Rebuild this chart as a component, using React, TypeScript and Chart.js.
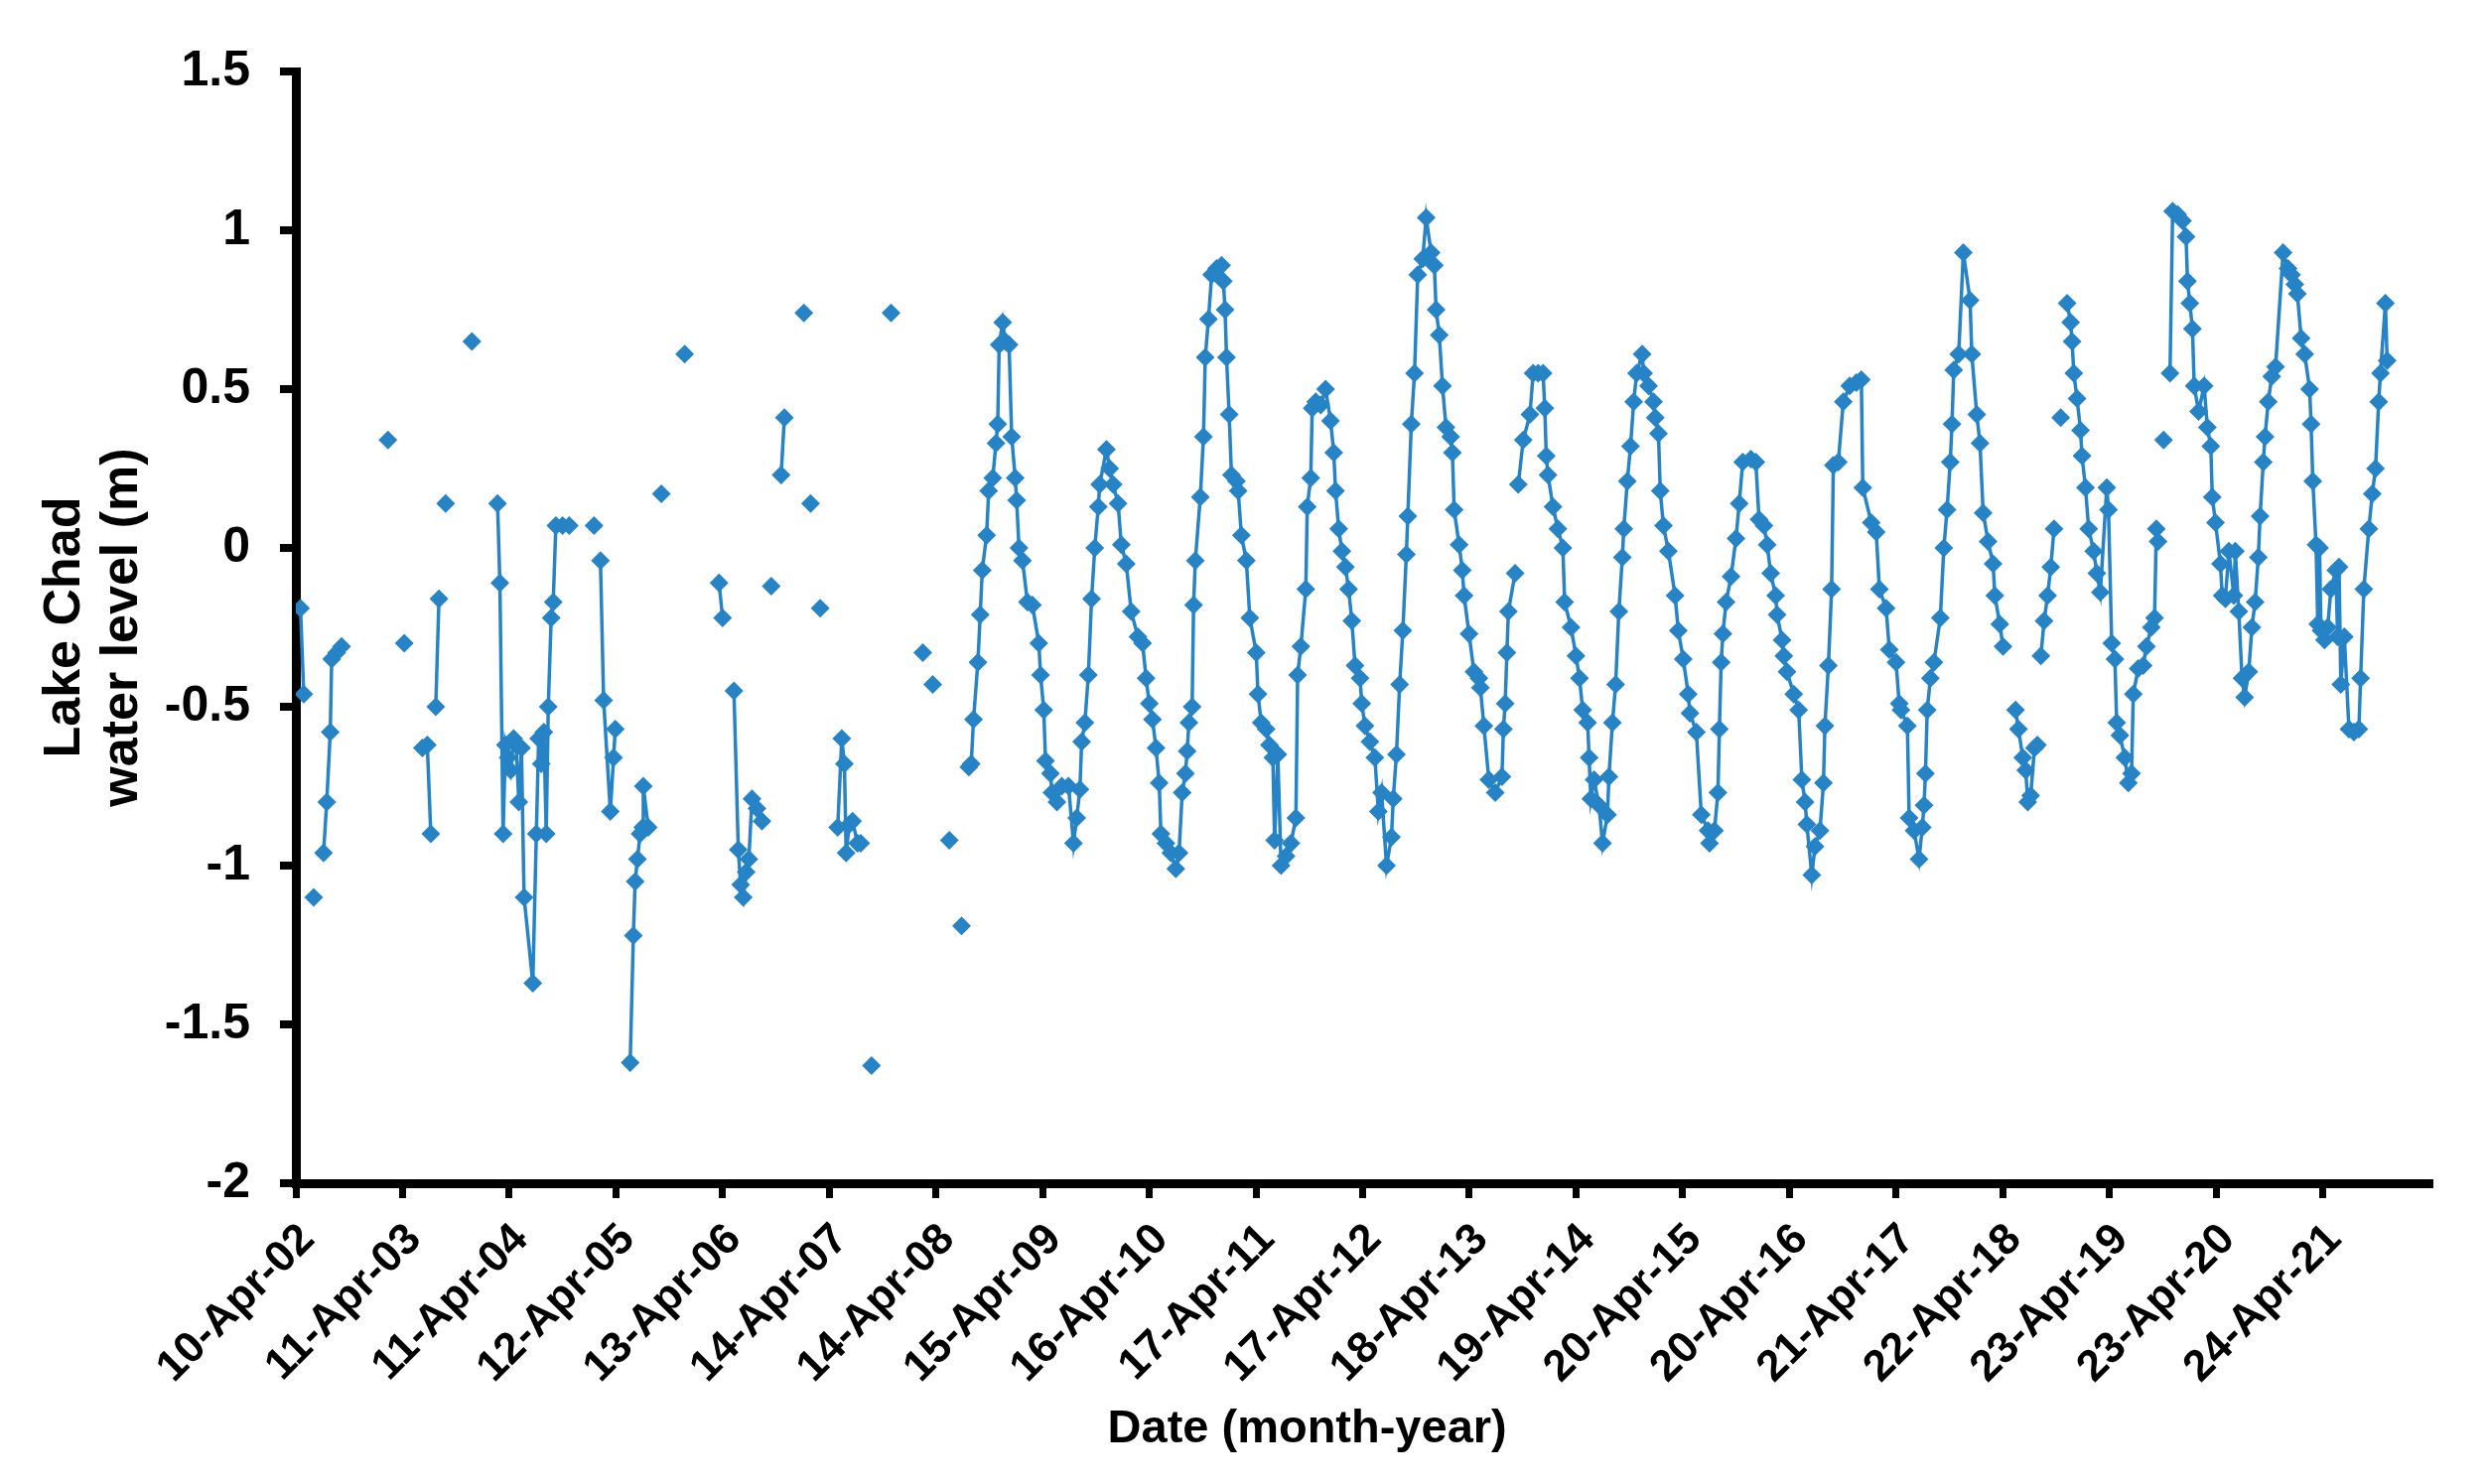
import React, { useEffect, useRef } from 'react';
import { Chart, registerables } from 'chart.js';

Chart.register(...registerables);

// Tick labels of the date axis (one every 366 days from 10-Apr-2002)
const xTickLabels = [
  '10-Apr-02', '11-Apr-03', '11-Apr-04', '12-Apr-05', '13-Apr-06',
  '14-Apr-07', '14-Apr-08', '15-Apr-09', '16-Apr-10', '17-Apr-11',
  '17-Apr-12', '18-Apr-13', '19-Apr-14', '20-Apr-15', '20-Apr-16',
  '21-Apr-17', '22-Apr-18', '23-Apr-19', '23-Apr-20', '24-Apr-21',
];
const tickStepDays = 366;
const axisMaxDays = 7320;

const yMin = -2;
const yMax = 1.5;
const yStep = 0.5;

const xTitle = 'Date (month-year)';
const yTitle = ['Lake Chad', 'water level (m)'];

// Observation dates, in days after 10-Apr-2002 (null = break in the record)
const dayOffsets: (number | null)[] = [
  16, 27, null,
  61, null,
  95, 106, 118, 123, 140, 157, null,
  316, null,
  372, null,
  434, 451, 463, null,
  480, 491, null,
  514, null,
  604, null,
  692, 700, 711, 719, 728, 737, 747, 756, 765, 774, 783, 813, 825, 833, 842, 851, 859, 866, 876, 883, 892, 915, 938, null,
  1023, null,
  1045, 1056, 1079, 1090, 1096, null,
  1147, 1158, 1164, 1172, 1181, 1190, 1192, 1209, null,
  1254, null,
  1334, null,
  1452, 1464, null,
  1503, 1518, 1526, 1535, 1545, 1554, 1565, 1582, 1599, null,
  1631, null,
  1665, 1676, null,
  1743, null,
  1766, null,
  1799, null,
  1859, 1873, 1882, 1888, 1899, 1910, 1927, 1938, null,
  1975, null,
  2042, null,
  2151, null,
  2185, null,
  2242, null,
  2284, null,
  2309, 2317, 2325, 2340, 2348, 2355, 2370, 2377, 2391, 2402,
  2408, 2413, 2425, 2434, 2447, 2456, 2468, 2473, 2481, 2493,
  2510, 2527, 2549, 2555, 2566, 2572, 2589, 2594, 2611, 2628,
  2651, 2668, 2679, 2690, 2696, 2707, 2719, 2730, 2741, 2753,
  2758, 2781, 2792, 2804, 2821, 2832, 2849, 2866, 2889, 2905,
  2917, 2928, 2939, 2951, 2962, 2968, 2985, 3002, 3019, 3030,
  3041, 3052, 3058, 3064, 3075, 3080, 3086, 3103, 3114, 3120,
  3131, 3142, 3159, 3176, 3182, 3188, 3193, 3202, 3210, 3227,
  3233, 3244, 3261, 3273, 3295, 3301, 3312, 3329, 3340, 3352,
  3358, 3369, 3380, 3397, 3414, 3431, 3437, 3448, 3465, 3470,
  3482, 3487, 3499, 3516, 3533, 3550, 3561, 3567, 3578, 3589,
  3601, 3612, 3623, 3634, 3651, 3657, 3668, 3685, 3702, 3714,
  3725, 3742, 3759, 3765, 3776, 3787, 3798, 3810, 3815, 3827,
  3838, 3849, 3866, 3878, 3895, 3906, 3912, 3923, 3934, 3946,
  3962, 3968, 3974, 3991, 4002, 4008, 4025, 4042, 4059, 4064,
  4076, 4093, 4115, 4138, 4143, 4149, 4155, 4160, 4183, null,
  4194, 4211, 4234, 4245, 4262, 4279, 4285, 4290, 4296, 4313,
  4330, 4347, 4353, 4375, 4392, 4404, 4415, 4432, 4437, 4443,
  4454, 4471, 4483, 4500, 4505, 4517, 4528, 4539, 4551, 4556,
  4568, 4579, 4590, 4600, 4619, 4624, 4641, 4658, 4664, 4675,
  4681, 4692, 4709, 4732, 4743, 4760, 4777, 4783, 4805, 4822,
  4845, 4850, 4867, 4879, 4884, 4890, 4896, 4907, 4924, 4941,
  4952, 4964, 4992, 5009, 5020, 5037, 5048, 5060, 5077, 5082,
  5099, 5105, 5116, 5139, 5156, 5167, 5178, 5184, 5201, 5212,
  5229, 5241, 5246, 5258, 5269, 5275, 5292, 5309, 5331, 5354,
  5371, 5376, 5405, 5422, 5433, 5456, 5467, 5490, 5501, 5507,
  5529, 5535, 5552, 5569, 5580, 5586, 5591, 5597, 5608, 5620,
  5642, 5654, 5665, 5676, 5682, 5688, 5705, 5721, 5744, 5750,
  5767, 5778, 5789, 5806, 5823, 5829, 5846, 5857, null,
  5900, 5910, 5925, 5935, 5942, 5952, 5965, 5975, null,
  5987, 5998, 6010, 6021, 6032, null,
  6055, null,
  6077, 6089, 6094, 6100, 6111, 6123, 6128, 6140, 6151, 6168,
  6179, 6191, 6213, 6219, 6230, 6241, 6247, 6258, 6275, 6287,
  6298, 6304, 6321, 6338, 6349, 6366, 6377, 6383, 6389, null,
  6408, null,
  6430, 6439, 6456, 6473, 6485, 6490, 6498, 6507, 6513, 6528,
  6547, 6558, 6570, 6575, 6586, 6603, 6609, 6620, 6632, 6649,
  6654, 6666, 6677, 6686, 6700, 6711, 6722, 6733, 6739, 6750,
  6756, 6767, 6779, 6792, 6818, 6835, 6847, 6858, 6867, 6880,
  6892, 6909, 6914, 6920, 6931, 6937, 6943, 6948, 6960, 6971,
  6982, 6999, 7005, 7010, 7016, 7028, 7044, 7061, 7078, 7084,
  7095, 7112, 7124, 7135, 7146, 7152, 7169, 7175,
];

// Lake Chad water level (m), same order as dayOffsets
const waterLevels: (number | null)[] = [
  -0.19, -0.46, null,
  -1.10, null,
  -0.96, -0.80, -0.58, -0.35, -0.33, -0.31, null,
  0.34, null,
  -0.30, null,
  -0.63, -0.62, -0.90, null,
  -0.50, -0.16, null,
  0.14, null,
  0.65, null,
  0.14, -0.11, -0.90, -0.62, -0.66, -0.70, -0.60, -0.62, -0.80, -0.63, -1.10, -1.37, -0.90, -0.60, -0.68, -0.58, -0.90, -0.50, -0.22, -0.17, 0.07, 0.07, 0.07, null,
  0.07, null,
  -0.04, -0.48, -0.83, -0.66, -0.57, null,
  -1.62, -1.22, -1.05, -0.98, -0.90, -0.88, -0.75, -0.88, null,
  0.17, null,
  0.61, null,
  -0.11, -0.22, null,
  -0.45, -0.95, -1.06, -1.10, -1.02, -0.98, -0.79, -0.82, -0.86, null,
  -0.12, null,
  0.23, 0.41, null,
  0.74, null,
  0.14, null,
  -0.19, null,
  -0.88, -0.60, -0.68, -0.96, -0.87, -0.86, -0.93, -0.93, null,
  -1.63, null,
  0.74, null,
  -0.33, null,
  -0.43, null,
  -0.92, null,
  -1.19, null,
  -0.69, -0.68, -0.54, -0.36, -0.21, -0.07, 0.04, 0.18, 0.22, 0.33,
  0.39, 0.64, 0.71, 0.65, 0.64, 0.35, 0.22, 0.15, 0.00, -0.04,
  -0.17, -0.18, -0.30, -0.40, -0.51, -0.67, -0.71, -0.77, -0.80, -0.75,
  -0.75, -0.93, -0.85, -0.76, -0.61, -0.55, -0.40, -0.16, 0.00, 0.13,
  0.20, 0.31, 0.25, 0.20, 0.14, 0.01, -0.05, -0.20, -0.28, -0.30,
  -0.41, -0.49, -0.54, -0.63, -0.74, -0.90, -0.93, -0.96, -1.01, -0.96,
  -0.77, -0.71, -0.64, -0.55, -0.50, -0.18, -0.04, 0.16, 0.35, 0.60,
  0.72, 0.86, 0.88, 0.89, 0.84, 0.75, 0.60, 0.42, 0.23, 0.21,
  0.18, 0.04, -0.04, -0.22, -0.33, -0.46, -0.55, -0.57, -0.62, -0.66,
  -0.92, -0.65, -1.00, -0.97, -0.93, -0.85, -0.40, -0.31, -0.13, 0.13,
  0.22, 0.44, 0.46, 0.45, 0.50, 0.40, 0.30, 0.18, 0.06, -0.01,
  -0.06, -0.13, -0.23, -0.37, -0.41, -0.49, -0.56, -0.61, -0.66, -0.83,
  -0.77, -1.00, -0.91, -0.79, -0.65, -0.43, -0.26, -0.02, 0.10, 0.39,
  0.55, 0.86, 0.91, 1.04, 0.93, 0.89, 0.75, 0.67, 0.51, 0.38,
  0.35, 0.30, 0.12, 0.01, -0.07, -0.15, -0.27, -0.39, -0.41, -0.44,
  -0.56, -0.73, -0.77, -0.72, -0.57, -0.49, -0.33, -0.20, -0.08, null,
  0.20, 0.34, 0.42, 0.55, 0.55, 0.55, 0.44, 0.29, 0.23, 0.13,
  0.06, 0.00, -0.17, -0.25, -0.34, -0.41, -0.51, -0.55, -0.66, -0.79,
  -0.73, -0.81, -0.93, -0.84, -0.72, -0.55, -0.43, -0.20, -0.03, 0.06,
  0.21, 0.32, 0.46, 0.55, 0.61, 0.55, 0.51, 0.46, 0.41, 0.36,
  0.18, 0.07, -0.01, -0.15, -0.26, -0.35, -0.46, -0.52, -0.58, -0.84,
  -0.89, -0.93, -0.89, -0.77, -0.57, -0.36, -0.27, -0.17, -0.09, 0.03,
  0.14, 0.27, 0.28, 0.27, 0.09, 0.07, 0.01, -0.08, -0.15, -0.21,
  -0.29, -0.34, -0.39, -0.46, -0.51, -0.73, -0.80, -0.87, -1.03, -0.94,
  -0.89, -0.74, -0.56, -0.37, -0.13, 0.26, 0.27, 0.46, 0.51, 0.52,
  0.53, 0.19, 0.08, 0.05, -0.13, -0.19, -0.32, -0.36, -0.49, -0.51,
  -0.56, -0.85, -0.89, -0.98, -0.88, -0.81, -0.71, -0.51, -0.41, -0.36,
  -0.22, 0.00, 0.12, 0.27, 0.39, 0.56, 0.61, 0.93, 0.78, 0.61,
  0.42, 0.33, 0.11, 0.02, -0.05, -0.15, -0.24, -0.31, null,
  -0.51, -0.57, -0.66, -0.70, -0.80, -0.78, -0.63, -0.62, null,
  -0.34, -0.23, -0.15, -0.06, 0.06, null,
  0.41, null,
  0.77, 0.71, 0.65, 0.55, 0.47, 0.37, 0.29, 0.19, 0.06, -0.01,
  -0.08, -0.14, 0.19, 0.12, -0.30, -0.35, -0.55, -0.59, -0.66, -0.74,
  -0.71, -0.46, -0.38, -0.37, -0.31, -0.25, -0.22, 0.06, 0.02, null,
  0.34, null,
  0.55, 1.06, 1.05, 1.03, 0.98, 0.84, 0.77, 0.69, 0.51, 0.43,
  0.51, 0.38, 0.32, 0.16, 0.08, -0.05, -0.15, -0.16, -0.01, -0.15,
  -0.01, -0.20, -0.41, -0.47, -0.39, -0.25, -0.17, -0.03, 0.10, 0.27,
  0.35, 0.46, 0.54, 0.57, 0.93, 0.88, 0.86, 0.83, 0.80, 0.66,
  0.61, 0.50, 0.39, 0.21, 0.01, -0.24, 0.00, -0.26, -0.29, -0.25,
  -0.13, -0.07, -0.28, -0.06, -0.43, -0.28, -0.57, -0.58, -0.57, -0.41,
  -0.13, 0.06, 0.17, 0.25, 0.46, 0.55, 0.77, 0.59,
];

const BLUE = '#2683C6';
const FONT_FAMILY = '"Liberation Sans", Arial, sans-serif';

// Draws the x-axis title where the reference places it (slightly left of the plot centre)
const xTitlePlugin = {
  id: 'xTitlePlugin',
  afterDraw(chart: any) {
    const { ctx, chartArea } = chart;
    const x = chartArea.left + (chartArea.right - chartArea.left) * 0.474;
    const y = chartArea.bottom + 248;
    ctx.save();
    ctx.font = `bold 47px ${FONT_FAMILY}`;
    ctx.fillStyle = '#000';
    ctx.textAlign = 'center';
    ctx.textBaseline = 'middle';
    ctx.fillText(xTitle, x, y);
    ctx.restore();
  },
};

export default function App() {
  const canvasRef = useRef<HTMLCanvasElement | null>(null);

  useEffect(() => {
    document.body.style.margin = '0';
    if (dayOffsets.length !== waterLevels.length) {
      console.error('data length mismatch', dayOffsets.length, waterLevels.length);
    }
    const points: { x: number; y: number | null }[] = [];
    let prevDay = 0;
    for (let i = 0; i < waterLevels.length; i++) {
      const d = dayOffsets[i];
      const v = waterLevels[i];
      if (d === null || v === null) {
        points.push({ x: prevDay + 0.5, y: null });
      } else {
        points.push({ x: d, y: v });
        prevDay = d;
      }
    }

    const chart = new Chart(canvasRef.current as HTMLCanvasElement, {
      type: 'line',
      data: {
        datasets: [
          {
            data: points as any,
            borderColor: BLUE,
            backgroundColor: BLUE,
            borderWidth: 3.5,
            pointStyle: 'rectRot',
            pointRadius: 9.5,
            pointBorderWidth: 0,
            pointBackgroundColor: BLUE,
            pointBorderColor: BLUE,
            tension: 0,
            spanGaps: false,
          },
        ],
      },
      plugins: [xTitlePlugin],
      options: {
        responsive: true,
        maintainAspectRatio: false,
        animation: false,
        layout: { padding: { top: 72, right: 59, left: 0, bottom: 0 } },
        plugins: {
          legend: { display: false },
          tooltip: { enabled: false },
        },
        scales: {
          x: {
            type: 'linear',
            min: 0,
            max: axisMaxDays,
            afterBuildTicks: (scale: any) => {
              scale.ticks = xTickLabels.map((_, i) => ({ value: i * tickStepDays }));
            },
            afterFit: (scale: any) => {
              scale.height = 303;
            },
            ticks: {
              autoSkip: false,
              minRotation: 45,
              maxRotation: 45,
              padding: 16,
              labelOffset: 12,
              color: '#000',
              font: { family: FONT_FAMILY, size: 44, weight: 'bold' },
              callback: (_v: any, i: number) => xTickLabels[i],
            },
            grid: {
              display: true,
              drawOnChartArea: false,
              drawTicks: true,
              tickLength: 15,
              color: '#000',
              lineWidth: 7,
            },
            border: { display: true, color: '#000', width: 9 },
            title: { display: false },
          },
          y: {
            min: yMin,
            max: yMax,
            afterFit: (scale: any) => {
              scale.width = 298;
            },
            ticks: {
              stepSize: yStep,
              padding: 30,
              color: '#000',
              font: { family: FONT_FAMILY, size: 50, weight: 'bold' },
              callback: (v: any) => String(Math.round(Number(v) * 10) / 10),
            },
            grid: {
              display: true,
              drawOnChartArea: false,
              drawTicks: true,
              tickLength: 16,
              color: '#000',
              lineWidth: 8,
            },
            border: { display: true, color: '#000', width: 9 },
            title: {
              display: true,
              text: yTitle,
              color: '#000',
              font: { family: FONT_FAMILY, size: 52, weight: 'bold', lineHeight: 1.13 },
              padding: { top: 36, bottom: 0 },
            },
          },
        },
      },
    });
    return () => chart.destroy();
  }, []);

  return (
    <div style={{ position: 'relative', width: '2506px', height: '1495px' }}>
      <canvas ref={canvasRef} />
    </div>
  );
}
